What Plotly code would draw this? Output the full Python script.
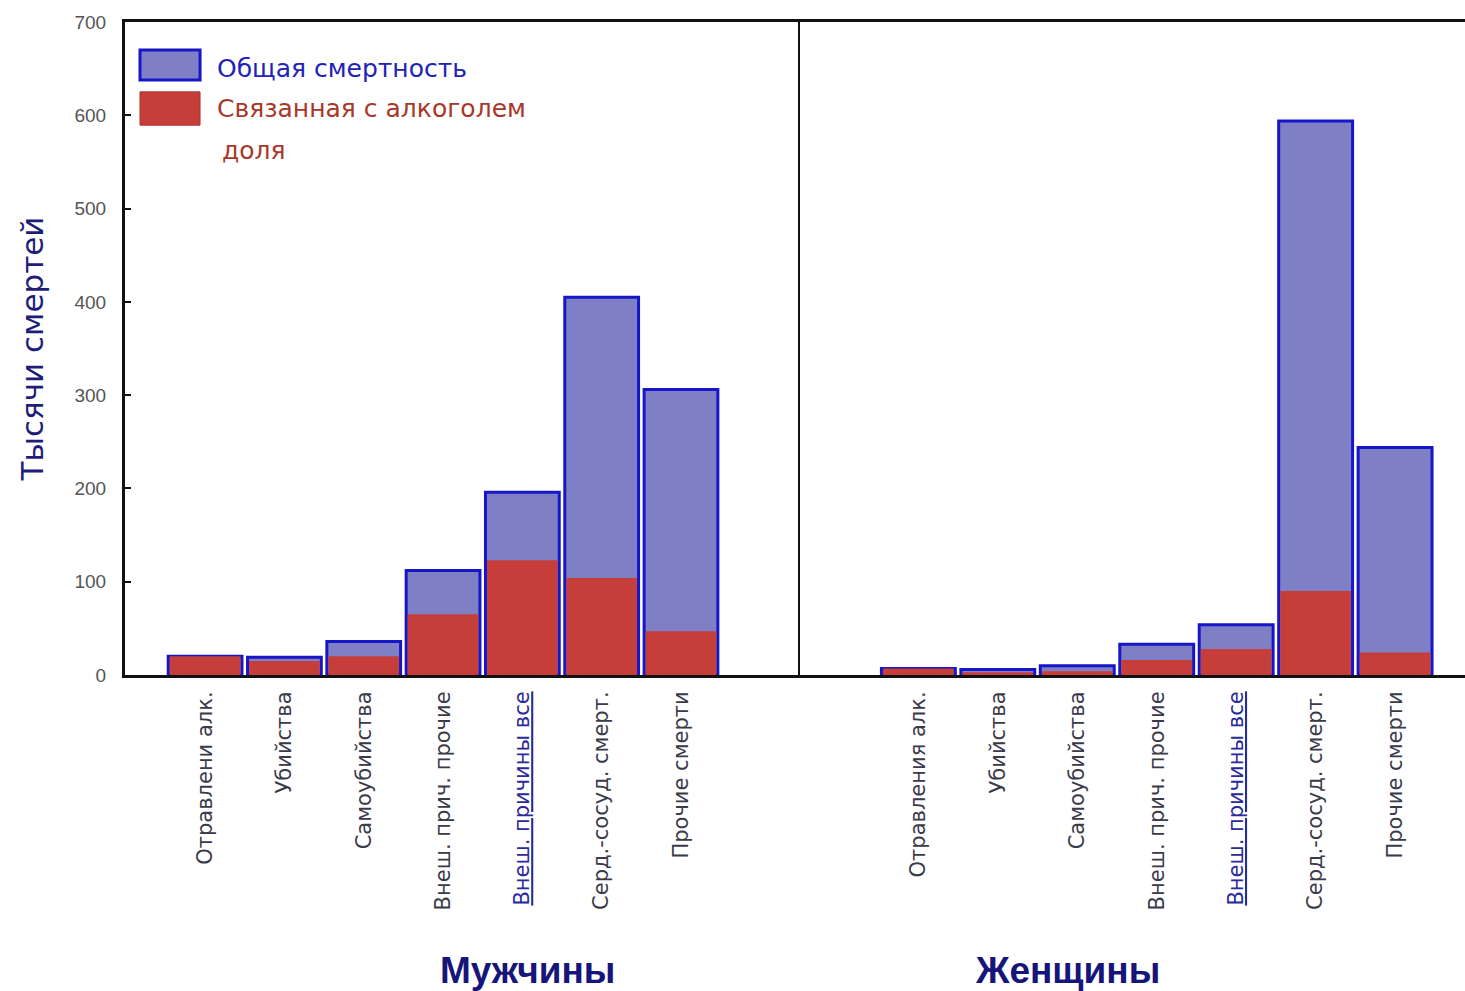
import plotly.graph_objects as go

# ---- data ----
categories_men = ["Отравлени алк.", "Убийства", "Самоубийства", "Внеш. прич. прочие",
                  "Внеш. причины все", "Серд.-сосуд. смерт.", "Прочие смерти"]
categories_women = ["Отравления алк.", "Убийства", "Самоубийства", "Внеш. прич. прочие",
                    "Внеш. причины все", "Серд.-сосуд. смерт.", "Прочие смерти"]
total_men = [20, 19, 36, 112, 196, 405, 306]
alcohol_men = [20, 15, 20, 65, 123, 104, 47]
total_women = [7, 6, 10, 33, 54, 594, 244]
alcohol_women = [7, 3, 4, 16, 28, 90, 24]
series_names = ["Общая смертность", "Связанная с алкоголем доля"]
panel_titles = ["Мужчины", "Женщины"]
y_ticks = [0, 100, 200, 300, 400, 500, 600, 700]
underlined_category = "Внеш. причины все"

# ---- styles ----
BLUE_FILL = "#7f7fc6"
BLUE_LINE = "#1616c8"
RED_FILL = "#c63e3a"
NAVY = "#16167a"
TICK_FONT = dict(family="DejaVu Sans", size=21, color="#3a3a4a")


def tick_text(cats):
    out = []
    for c in cats:
        if c == underlined_category:
            out.append(f"<span style='color:#2a2a9a'><u>{c}</u></span>")
        else:
            out.append(c)
    return out


fig = go.Figure()
for cats, tot, alc, xa, ya in [(categories_men, total_men, alcohol_men, "x", "y"),
                               (categories_women, total_women, alcohol_women, "x2", "y2")]:
    fig.add_trace(go.Bar(x=cats, y=tot, xaxis=xa, yaxis=ya, name=series_names[0],
                         width=0.93, showlegend=False,
                         marker=dict(color=BLUE_FILL, line=dict(color=BLUE_LINE, width=3))))
    fig.add_trace(go.Bar(x=cats, y=alc, xaxis=xa, yaxis=ya, name=series_names[1],
                         width=0.89, showlegend=False,
                         marker=dict(color=RED_FILL, line=dict(color=RED_FILL, width=0))))

split = 0.5037
xcommon = dict(showline=True, linecolor="#111", linewidth=3, mirror=True, ticks="",
               tickangle=-90, tickfont=TICK_FONT, showgrid=False, zeroline=False,
               tickmode="array", ticklabelstandoff=5, fixedrange=True)

fig.update_layout(
    width=1465, height=991,
    margin=dict(l=125, r=0, t=22, b=316),
    paper_bgcolor="white", plot_bgcolor="white",
    barmode="overlay", bargap=0.05,
    xaxis=dict(domain=[0, split], range=[-1.01, 7.5], anchor="y",
               tickvals=categories_men, ticktext=tick_text(categories_men), **xcommon),
    xaxis2=dict(domain=[split, 1], range=[-1.49, 6.88], anchor="y2",
                tickvals=categories_women, ticktext=tick_text(categories_women), **xcommon),
    yaxis=dict(domain=[0, 1], range=[0, 700], tickvals=y_ticks, ticks="inside", ticklen=6,
               tickwidth=2, tickcolor="#111", showline=True, linecolor="#111", linewidth=3,
               showgrid=False, zeroline=False, ticklabelstandoff=12,
               tickfont=dict(family="Liberation Sans", size=19, color="#555"),
               title=dict(text="Тысячи смертей", standoff=22,
                          font=dict(family="DejaVu Sans", size=31, color="#1e1e78"))),
    yaxis2=dict(domain=[0, 1], range=[0, 700], anchor="x2", showline=True, linecolor="#111",
                linewidth=2, showticklabels=False, ticks="", showgrid=False, zeroline=False),
)

# panel titles
for txt, xp in zip(panel_titles, [0.300, 0.7037]):
    fig.add_annotation(text=f"<b>{txt}</b>", x=xp, y=-0.452, xref="paper", yref="paper",
                       showarrow=False, xanchor="center", yanchor="middle",
                       font=dict(family="Liberation Sans", size=37, color=NAVY))

# custom legend (swatches + texts)
fig.add_shape(type="rect", xref="paper", yref="paper", x0=0.0112, x1=0.056, y0=0.911, y1=0.957,
              fillcolor=BLUE_FILL, line=dict(color=BLUE_LINE, width=3))
fig.add_shape(type="rect", xref="paper", yref="paper", x0=0.0112, x1=0.056, y0=0.842, y1=0.893,
              fillcolor=RED_FILL, line=dict(color="#b03530", width=1))
legend_font = dict(family="DejaVu Sans", size=25)
fig.add_annotation(text=series_names[0], x=0.0672, y=0.929, xref="paper", yref="paper",
                   showarrow=False, xanchor="left", yanchor="middle",
                   font=dict(color="#2222b8", **legend_font))
fig.add_annotation(text="Связанная с алкоголем", x=0.0672, y=0.867, xref="paper", yref="paper",
                   showarrow=False, xanchor="left", yanchor="middle",
                   font=dict(color="#a8382a", **legend_font))
fig.add_annotation(text="доля", x=0.0709, y=0.803, xref="paper", yref="paper",
                   showarrow=False, xanchor="left", yanchor="middle",
                   font=dict(color="#a8382a", **legend_font))

fig.write_html("out.html", config={"displayModeBar": False},
               post_script="document.body.style.margin='0';document.body.style.overflow='hidden';")
